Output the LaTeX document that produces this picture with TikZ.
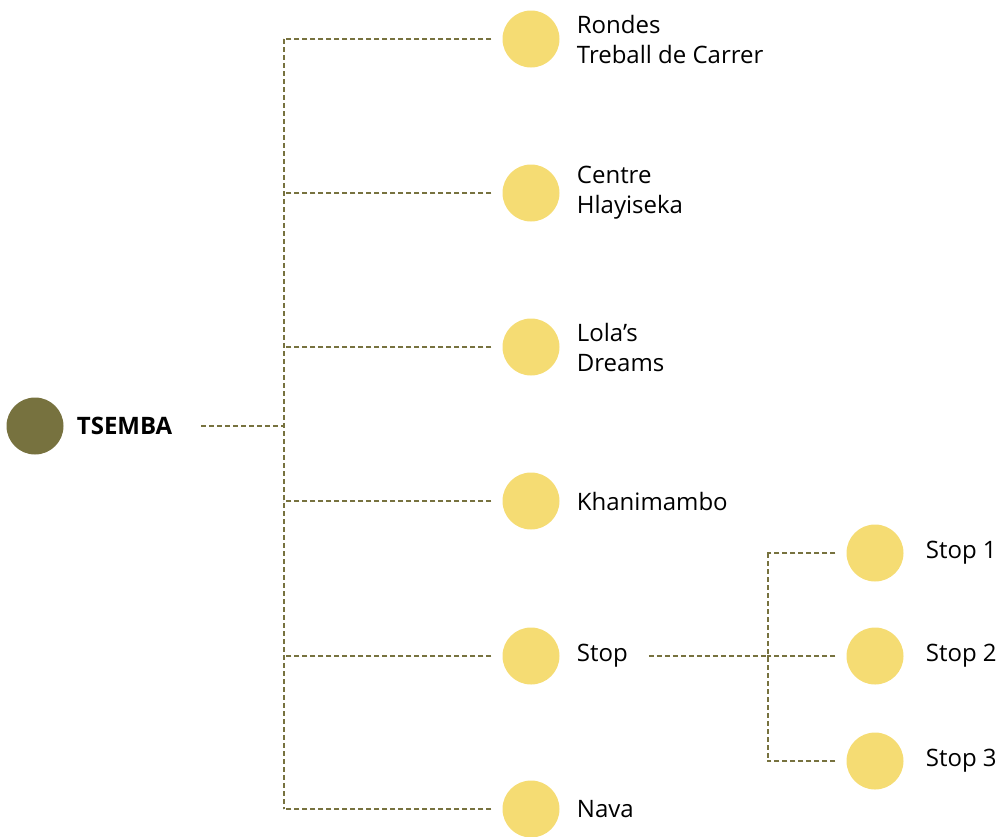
\documentclass[tikz,border=0pt]{standalone}
\usepackage{fontspec}
\setmainfont{Open Sans}
\usetikzlibrary{positioning}
\definecolor{tsdark}{HTML}{77723F}
\definecolor{tsyellow}{HTML}{F5DC73}
\tikzset{
	dot/.style={circle, fill=tsyellow, minimum size=57pt, inner sep=0pt},
	lbl/.style={font=\fontsize{24}{30}\selectfont, align=left, inner sep=0pt},
	link/.style={draw=tsdark, line width=1.2pt, dash pattern=on 5pt off 3pt}
}
\begin{document}
\begin{tikzpicture}[x=1pt,y=-1pt]
		\useasboundingbox (0,0) rectangle (998,836);
		% root
		\node[dot, fill=tsdark] (tsemba) at (35,426) {};
		\node[lbl, font=\fontsize{24}{30}\selectfont\bfseries, right=13pt of tsemba] (tsembalbl) {TSEMBA};
		% first level
		\foreach \name/\y/\txt in {rondes/39/{Rondes\\Treball de Carrer}, centre/193/{Centre\\Hlayiseka}, lola/347/{Lola’s\\Dreams}, khani/501/{Khanimambo}, stop/656/{Stop}, nava/809/{Nava}} {
			\node[dot] (\name) at (531,\y) {};
			\node[lbl, right=17pt of \name] (\name lbl) {\txt};
			\draw[link] ([xshift=-11pt]\name.west) -- ++(-208pt,0);
		}
		\coordinate (trunk) at (284,426);
		\draw[link] ([xshift=29pt]tsembalbl.east) -- (trunk);
		\draw[link] (trunk |- rondes) -- (trunk |- nava);
		% second level
		\foreach \name/\y/\txt in {stopa/553/{Stop 1}, stopb/656/{Stop 2}, stopc/761/{Stop 3}} {
			\node[dot] (\name) at (875,\y) {};
			\node[lbl, right=22pt of \name] (\name lbl) {\txt};
			\draw[link] ([xshift=-11pt]\name.west) -- ++(-68pt,0);
		}
		\coordinate (fork) at (768,656);
		\draw[link] ([xshift=21pt]stoplbl.east) -- (fork);
		\draw[link] (fork |- stopa) -- (fork |- stopc);
\end{tikzpicture}
\end{document}
